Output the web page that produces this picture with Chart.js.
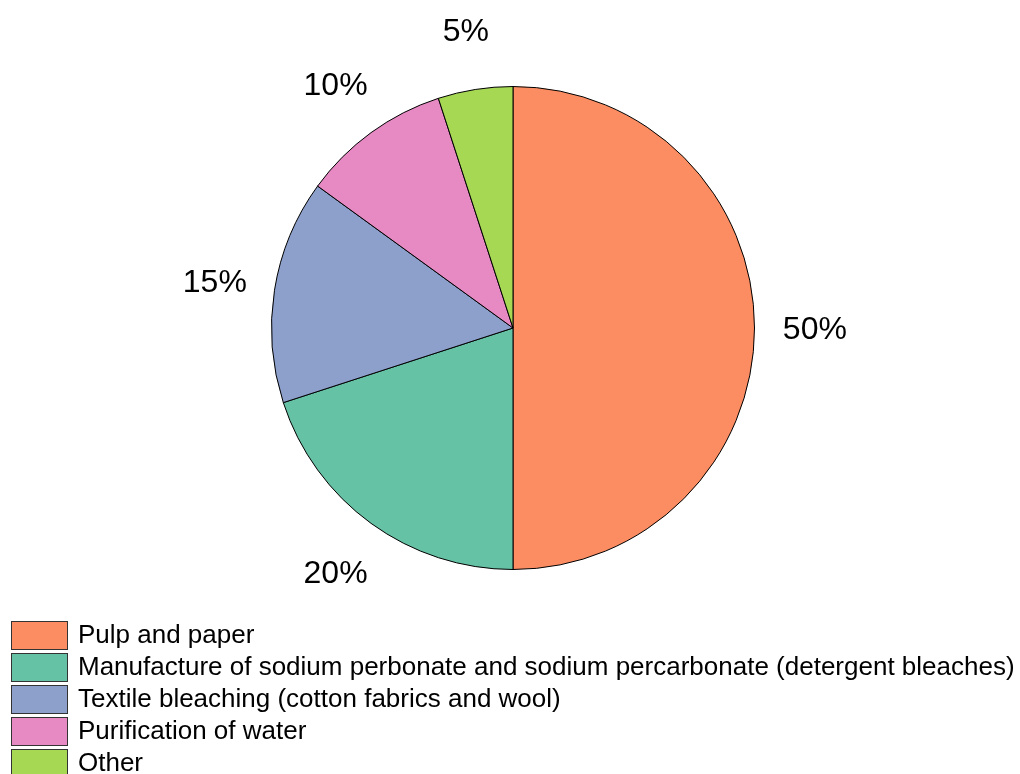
<!DOCTYPE html>
<html>
<head>
<meta charset="utf-8">
<script src="https://cdn.jsdelivr.net/npm/chart.js@4"></script>
<style>
  html, body { margin: 0; padding: 0; background: #fff; }
  #wrap { width: 1020px; height: 774px; }
</style>
</head>
<body>
<div id="wrap"><canvas id="pie" width="1020" height="774"></canvas></div>
<script>
// Uses of hydrogen peroxide, share in percent
const categories = [
  'Pulp and paper',
  'Manufacture of sodium perbonate and sodium percarbonate (detergent bleaches)',
  'Textile bleaching (cotton fabrics and wool)',
  'Purification of water',
  'Other'
];
const shares = [50, 20, 15, 10, 5];
const colors = ['#FC8D62', '#66C2A5', '#8DA0CB', '#E78AC3', '#A6D854'];

const FONT = '"Liberation Sans", Arial, sans-serif';

// percentage labels outside the pie + square legend at the bottom left
const labelsAndLegend = {
  id: 'labelsAndLegend',
  afterDraw(chart) {
    const ctx = chart.ctx;
    const arcs = chart.getDatasetMeta(0).data;
    ctx.save();
    ctx.fillStyle = '#000';
    ctx.font = '32px ' + FONT;
    ctx.textAlign = 'center';
    ctx.textBaseline = 'middle';
    arcs.forEach((arc, i) => {
      const mid = (arc.startAngle + arc.endAngle) / 2;
      const r = arc.outerRadius * 1.25;
      ctx.fillText(shares[i] + '%', arc.x + Math.cos(mid) * r, arc.y + Math.sin(mid) * r + 2);
    });

    ctx.font = '26px ' + FONT;
    ctx.textAlign = 'left';
    categories.forEach((name, i) => {
      const top = 621 + i * 32;
      ctx.fillStyle = colors[i];
      ctx.fillRect(11.5, top + 0.5, 56, 28);
      ctx.strokeStyle = '#333';
      ctx.lineWidth = 1;
      ctx.strokeRect(11.5, top + 0.5, 56, 28);
      ctx.fillStyle = '#000';
      ctx.fillText(name, 78, top + 15);
    });
    ctx.restore();
  }
};

new Chart(document.getElementById('pie'), {
  type: 'pie',
  data: {
    labels: categories,
    datasets: [{
      data: shares,
      backgroundColor: colors,
      borderColor: '#000',
      borderWidth: 1,
      hoverOffset: 0
    }]
  },
  options: {
    responsive: false,
    animation: false,
    layout: { padding: { top: 86, bottom: 204, left: 271, right: 265 } },
    plugins: {
      legend: { display: false },
      tooltip: { enabled: false }
    }
  },
  plugins: [labelsAndLegend]
});
</script>
</body>
</html>
